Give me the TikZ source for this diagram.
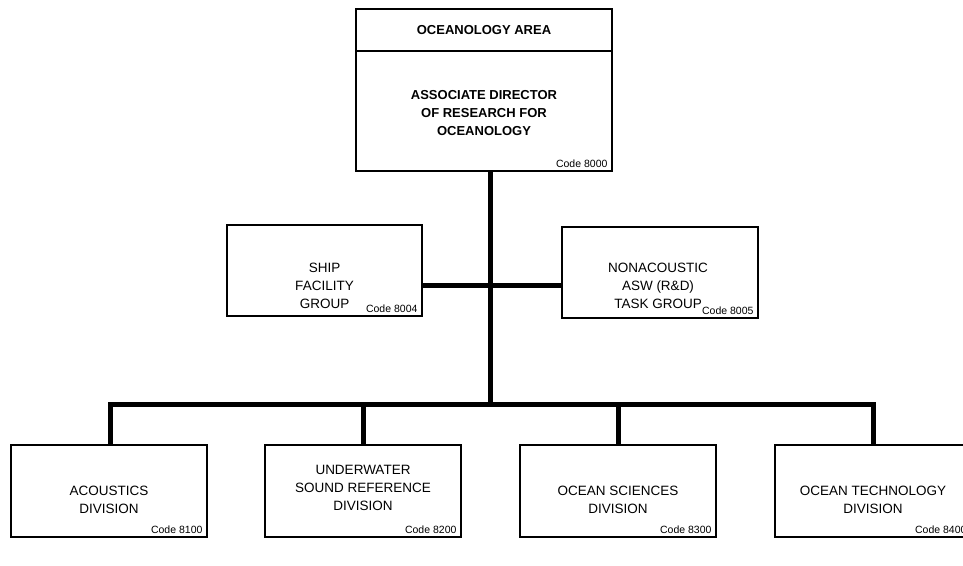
\documentclass[tikz,border=0pt]{standalone}
\usepackage{fontspec}
\setmainfont{Liberation Sans}
\begin{document}
\begin{tikzpicture}[x=1pt,y=-1pt,
  box/.style={draw,line width=1.3pt,rectangle,inner sep=0pt},
  lbl/.style={align=center,font=\fontsize{13.5}{18}\selectfont},
  blbl/.style={align=center,font=\fontsize{13}{18}\selectfont\bfseries},
  code/.style={anchor=south east,inner sep=0pt,font=\fontsize{10.5}{12}\selectfont},
  bar/.style={line width=5pt}]
\useasboundingbox (0,0) rectangle (963,565);
\clip (0,0) rectangle (963,565);
% top box
\node[box,minimum width=256pt,minimum height=42pt] (area) at (484,30) {};
\node[blbl] at (area.center) {OCEANOLOGY AREA};
\node[box,minimum width=256pt,minimum height=120pt] (adr) at (484,111) {};
\node[blbl] at (484,113) {ASSOCIATE DIRECTOR\\OF RESEARCH FOR\\OCEANOLOGY};
\node[code] at ([xshift=-5pt,yshift=4pt]adr.south east) {Code 8000};
% middle boxes
\node[box,minimum width=195pt,minimum height=91pt] (ship) at (324.5,270.5) {};
\node[lbl] at (324.5,286) {SHIP\\FACILITY\\GROUP};
\node[code] at ([xshift=-5pt,yshift=4pt]ship.south east) {Code 8004};
\node[box,minimum width=196pt,minimum height=91pt] (nona) at (660,272.5) {};
\node[lbl] at (658,286) {NONACOUSTIC\\ASW (R\&D)\\TASK GROUP};
\node[code] at ([xshift=-5pt,yshift=4pt]nona.south east) {Code 8005};
% bottom boxes
\node[box,minimum width=196pt,minimum height=92pt] (acou) at (109,491) {};
\node[lbl] at (109,500) {ACOUSTICS\\DIVISION};
\node[code] at ([xshift=-5pt,yshift=4pt]acou.south east) {Code 8100};
\node[box,minimum width=196pt,minimum height=92pt] (usr) at (363,491) {};
\node[lbl] at (363,488) {UNDERWATER\\SOUND REFERENCE\\DIVISION};
\node[code] at ([xshift=-5pt,yshift=4pt]usr.south east) {Code 8200};
\node[box,minimum width=196pt,minimum height=92pt] (osci) at (618,491) {};
\node[lbl] at (618,500) {OCEAN SCIENCES\\DIVISION};
\node[code] at ([xshift=-5pt,yshift=4pt]osci.south east) {Code 8300};
\node[box,minimum width=196pt,minimum height=92pt] (otec) at (873,491) {};
\node[lbl] at (873,500) {OCEAN TECHNOLOGY\\DIVISION};
\node[code] at ([xshift=-5pt,yshift=4pt]otec.south east) {Code 8400};
% connectors
\coordinate (busL) at (110,404.5);
\coordinate (busR) at (873,404.5);
\coordinate (busM) at (490,404.5);
\draw[bar] (adr.south -| busM) -- (busM);
\draw[bar] (ship.east |- 0,285.5) -- (nona.west |- 0,285.5);
\draw[bar,line join=miter] (acou.north -| busL) -- (busL) -- (busR) -- (otec.north -| busR);
\draw[bar] (usr.north) -- (usr.north |- busL);
\draw[bar] (osci.north) -- (osci.north |- busL);
\end{tikzpicture}
\end{document}
